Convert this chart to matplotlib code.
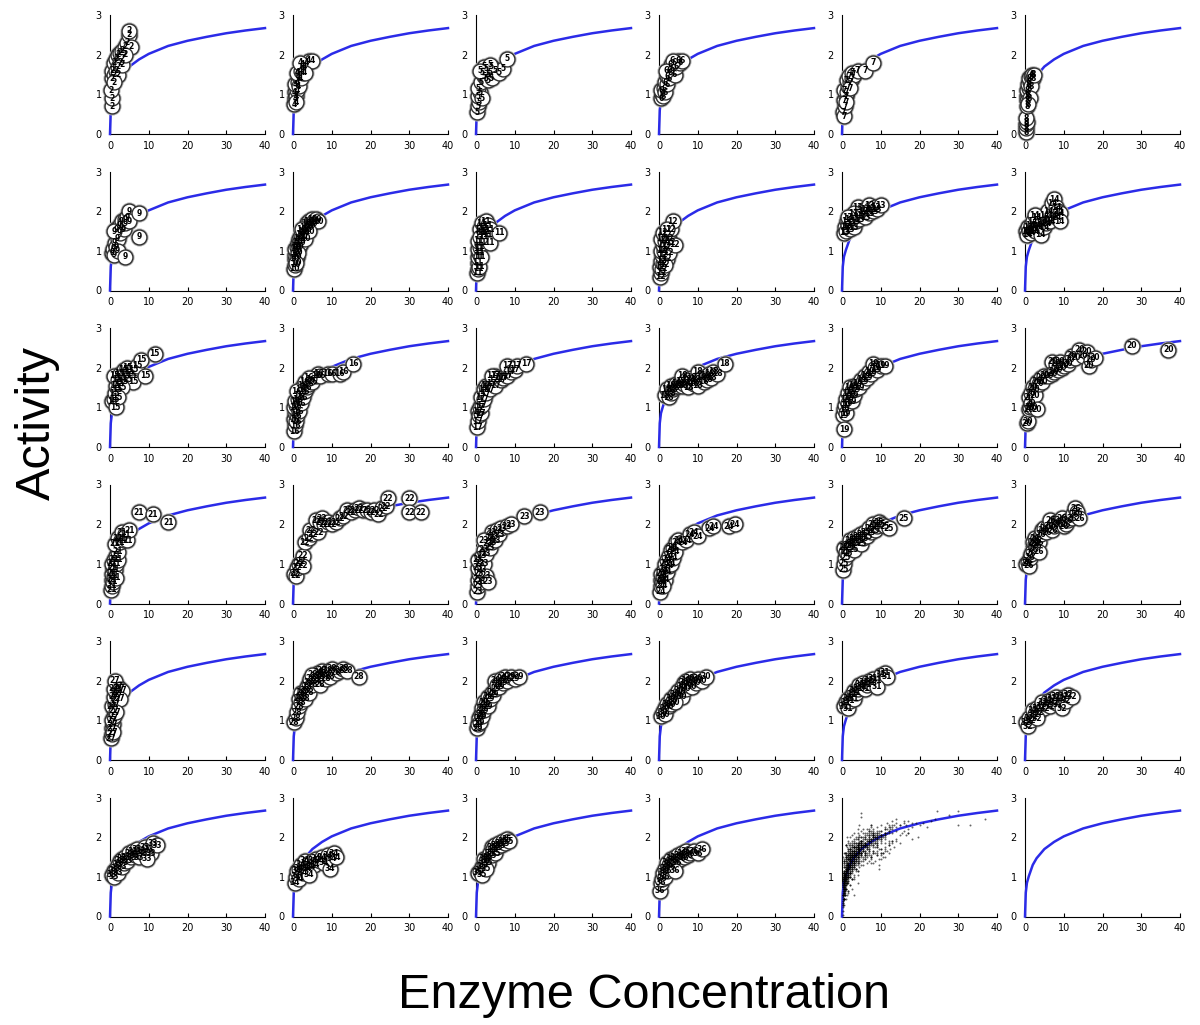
import matplotlib
matplotlib.use('Agg')
import matplotlib.pyplot as plt

# fitted curve (same in every panel)
curve_x = [0, 0.2, 0.5, 1, 2, 3, 5, 7.5, 10, 15, 20, 25, 30, 35, 40]
curve_y = [0, 0.6, 0.85, 1.02, 1.3, 1.47, 1.7, 1.88, 2.02, 2.22, 2.35, 2.45, 2.54, 2.61, 2.67]

# (concentration, activity) per group
g02 = [(0.5,0.7),(0.5,0.9),(0.3,1.1),(0.5,1.4),(0.5,1.6),(1,1.5),(1,1.8),(1.5,1.6),(1.5,1.9),(2,1.7),(2,2.0),(2.5,1.8),(2.5,2.05),(3,1.9),(3,2.1),(3.5,2.0),(4,2.2),(4.5,2.3),(5,2.5),(5,2.6),(5.5,2.2),(2,1.5),(1,1.3),(3,1.75),(4,2.0)]
g04 = [(0.3,0.75),(0.5,0.9),(0.4,1.05),(0.8,0.95),(1,1.1),(0.6,1.25),(1.2,1.3),(1.5,1.2),(1.5,1.45),(2,1.4),(1,1.55),(2,1.6),(2.5,1.55),(2.5,1.75),(3,1.7),(3.5,1.8),(4,1.85),(5,1.85),(1.8,1.8),(3,1.55),(0.8,0.8)]
g05 = [(0.3,0.55),(0.5,0.7),(0.8,0.8),(0.5,0.95),(1,1.05),(0.6,1.15),(1.5,0.9),(1.2,1.3),(2,1.45),(1.5,1.55),(2.5,1.4),(3,1.5),(2.5,1.65),(3,1.35),(3.5,1.55),(4,1.4),(4,1.7),(5,1.6),(6,1.55),(7,1.65),(8,1.9),(2,1.7),(3.5,1.75),(1,1.6)]
g06 = [(0.5,0.9),(0.8,1.0),(1,0.95),(0.5,1.1),(1.2,1.15),(1.5,1.05),(1.5,1.3),(2,1.25),(2,1.45),(2.5,1.4),(2.5,1.6),(3,1.55),(3,1.75),(3.5,1.65),(4,1.8),(4,1.5),(4.5,1.7),(5,1.85),(5.5,1.8),(6,1.85),(3.5,1.85),(1.8,1.6)]
g07 = [(0.3,0.55),(0.5,0.45),(0.8,0.7),(0.5,0.85),(1,0.95),(0.6,1.1),(1.2,1.05),(1.5,1.2),(1.2,1.35),(2,1.3),(1.8,1.45),(2.5,1.4),(2.5,1.55),(3,1.5),(4,1.6),(6,1.6),(8,1.8),(1,0.8),(2,1.15)]
g08 = [(0.2,0.05),(0.3,0.15),(0.2,0.25),(0.4,0.3),(0.3,0.4),(0.5,0.7),(0.6,0.85),(0.5,0.95),(0.8,1.0),(0.6,1.1),(1,1.15),(0.8,1.25),(1.2,1.3),(1,1.4),(1.5,1.45),(1.8,1.5),(2,1.4),(1.5,1.2),(1.2,0.9),(0.8,0.75),(2.2,1.5)]
g09 = [(0.5,0.95),(0.8,1.05),(1,0.9),(1.2,1.2),(1.5,1.1),(2,1.3),(2,1.0),(1.5,1.55),(2.5,1.45),(2.5,1.65),(3,1.6),(3,1.75),(3.5,1.55),(4,1.8),(4,1.7),(4.5,1.85),(5,2.0),(5,1.75),(7.5,1.95),(7.5,1.35),(4,0.85),(1,1.5)]
g10 = [(0.3,0.55),(0.5,0.65),(0.4,0.8),(0.6,0.9),(0.8,1.0),(0.5,1.05),(1,1.1),(1,0.85),(1.2,1.2),(1.5,1.1),(1.5,1.3),(1.8,1.25),(2,1.4),(2,1.2),(2.5,1.35),(2.5,1.5),(3,1.45),(3,1.6),(3.5,1.55),(3.5,1.7),(4,1.6),(4,1.75),(4.5,1.65),(5,1.7),(5,1.8),(5.5,1.75),(6,1.8),(6.5,1.75),(1.2,0.95),(0.8,0.7),(2.2,1.55),(3.2,1.3),(4.2,1.5)]
g11 = [(0.3,0.45),(0.5,0.55),(0.4,0.7),(0.8,0.6),(0.5,0.85),(0.8,0.95),(0.5,1.05),(1,1.1),(1.2,0.85),(0.5,1.25),(1.5,1.2),(1.5,1.45),(1,1.55),(1.5,1.7),(2,1.6),(2,1.35),(2.5,1.5),(2.5,1.75),(3,1.4),(3,1.65),(3.5,1.2),(3.5,1.55),(6,1.45),(1,1.35)]
g12 = [(0.3,0.35),(0.5,0.45),(0.3,0.6),(0.8,0.55),(0.5,0.75),(1,0.7),(0.8,0.9),(0.5,1.0),(1.2,1.0),(1,1.15),(0.5,1.3),(1.5,1.25),(1,1.45),(1.8,1.4),(2,1.1),(2,0.8),(2.5,1.3),(2.5,0.95),(3,1.55),(3,1.2),(3.5,1.75),(4,1.15),(1.5,0.65),(2,1.55)]
g13 = [(0.5,1.45),(0.8,1.6),(1,1.5),(1.2,1.75),(1.5,1.65),(2,1.55),(2,1.8),(2.5,1.7),(3,1.6),(3,1.85),(3.5,1.75),(4,1.95),(4,2.1),(4.5,1.8),(5,1.9),(5.5,2.0),(6,1.85),(6,2.05),(7,1.95),(7,2.15),(7.5,2.05),(8,2.0),(8.5,2.1),(9,2.05),(10,2.15),(3,1.95),(1.5,1.85)]
g14 = [(0.3,1.5),(0.5,1.4),(0.8,1.6),(1,1.5),(1.5,1.45),(1.5,1.65),(2,1.55),(2,1.75),(2.5,1.5),(3,1.65),(3,1.85),(3.5,1.6),(4,1.7),(4,1.4),(4.5,1.75),(5,1.6),(5,1.9),(5.5,1.7),(6,1.8),(6,2.0),(6.5,1.75),(7,1.9),(7,2.2),(7.5,2.3),(8,2.1),(8,1.85),(8.5,2.0),(9,1.95),(9,1.75),(2.5,1.9)]
g15 = [(0.5,1.15),(1,1.2),(1.5,1.0),(1.2,1.35),(1.5,1.55),(2,1.45),(1,1.8),(2,1.7),(2.5,1.6),(2.5,1.85),(3,1.75),(3.5,1.95),(3.5,1.65),(4,1.85),(4.5,2.0),(4.5,1.7),(5,1.9),(5.5,1.8),(6,1.95),(6,1.65),(7,2.05),(8,2.2),(9,1.8),(11.5,2.35),(3,1.5),(2,1.25)]
g16 = [(0.3,0.4),(0.5,0.55),(0.3,0.7),(0.8,0.65),(0.5,0.85),(1,0.8),(0.3,1.0),(0.8,1.05),(1.5,0.9),(0.5,1.15),(1.2,1.2),(2,1.1),(1.5,1.3),(2.5,1.25),(2,1.45),(3,1.4),(2.5,1.55),(3.5,1.5),(3,1.65),(4,1.6),(4.5,1.7),(5,1.65),(6,1.8),(6.5,1.85),(7,1.8),(9,1.85),(10,1.85),(12,1.85),(13,1.9),(15.5,2.1),(4,1.75),(1,1.4)]
g17 = [(0.3,0.5),(0.5,0.65),(0.5,0.9),(0.8,0.8),(1.2,0.85),(1,1.0),(1.5,1.05),(1.2,1.25),(2,1.2),(2,1.45),(2.5,1.35),(2.5,1.55),(3,1.5),(3.5,1.45),(4,1.6),(4.5,1.7),(5,1.8),(5,1.55),(6,1.75),(6.5,1.7),(7,1.75),(8,1.8),(8,2.05),(9,1.9),(10,1.95),(10.5,2.05),(13,2.1),(4,1.8)]
g18 = [(1.5,1.3),(2,1.45),(2.5,1.25),(3,1.35),(3,1.55),(3.5,1.45),(4,1.5),(4.5,1.6),(5,1.55),(5.5,1.65),(6,1.8),(6,1.55),(6.5,1.6),(7,1.7),(7.5,1.5),(8,1.65),(8.5,1.75),(9,1.6),(9.5,1.7),(10,1.9),(10,1.55),(11,1.75),(11.5,1.65),(12,1.8),(12.5,1.7),(13,1.85),(13.5,1.75),(14,1.9),(15,1.85),(17,2.1)]
g19 = [(0.3,0.8),(0.5,0.45),(0.5,0.95),(0.8,1.05),(1,0.85),(1,1.2),(1.5,1.1),(1.5,1.35),(2,1.25),(2,1.5),(2.5,1.4),(2.5,1.15),(3,1.3),(3,1.55),(3.5,1.45),(4,1.6),(4.5,1.5),(5,1.7),(5.5,1.65),(6,1.8),(6.5,1.75),(7,1.9),(7.5,1.85),(8,2.1),(8.5,2.0),(9,1.95),(10,2.05),(11,2.05)]
g20 = [(0.5,0.6),(0.8,0.65),(1,0.95),(1.2,1.0),(1,1.25),(1.5,1.35),(1.5,1.1),(2,1.0),(2,1.5),(2.5,1.45),(2.5,1.3),(3,0.95),(3,1.65),(3.5,1.6),(4,1.75),(4.5,1.65),(5,1.8),(6,1.8),(7,1.85),(7,2.15),(7.5,1.9),(8,2.1),(8.5,1.95),(9,2.15),(9.5,2.0),(10,2.05),(11,2.1),(11.5,2.2),(12,2.3),(13,2.25),(14,2.45),(15,2.3),(16,2.4),(16.5,2.05),(17,2.2),(18,2.25),(27.5,2.55),(37,2.45)]
g21 = [(0.3,0.35),(0.5,0.45),(0.4,0.6),(0.8,0.55),(0.5,0.75),(1,0.7),(0.8,0.9),(0.5,1.0),(1.2,0.85),(1,1.1),(1.5,1.0),(1.5,1.2),(2,1.1),(2,1.3),(1.2,1.5),(2,1.65),(2.5,1.55),(3,1.65),(3,1.8),(3.5,1.6),(4,1.75),(4.5,1.6),(5,1.85),(7.5,2.3),(11,2.25),(15,2.05),(1.5,0.65)]
g22 = [(0.3,0.75),(0.8,0.7),(1,0.9),(1.5,1.0),(2,1.05),(2.5,1.2),(3,1.55),(4,1.65),(4.5,1.85),(5,1.75),(6,2.1),(6.5,1.8),(7,2.05),(7.5,2.15),(8,2.0),(9,2.05),(10,2.0),(11,2.05),(12,2.15),(13,2.2),(14,2.35),(15,2.3),(16,2.35),(17,2.4),(18,2.35),(19,2.35),(20,2.3),(21,2.35),(22,2.25),(23,2.4),(24,2.45),(24.5,2.65),(30,2.65),(30,2.3),(33,2.3),(2.5,0.95)]
g23 = [(0.3,0.3),(0.5,0.45),(0.5,0.6),(0.8,0.75),(0.5,0.9),(1,1.0),(0.5,1.1),(1.2,0.55),(1.5,0.85),(1.5,1.2),(2,1.0),(2,1.35),(2.5,0.7),(2.5,1.25),(3,0.55),(3,1.5),(3.5,1.4),(3.5,1.65),(4,1.55),(4,1.8),(4.5,1.7),(5,1.6),(5.5,1.85),(6,1.75),(6.5,1.9),(8,1.95),(9,2.0),(12.5,2.2),(16.5,2.3),(2,1.6)]
g24 = [(0.3,0.3),(0.5,0.45),(0.5,0.6),(0.8,0.55),(0.5,0.75),(1,0.7),(1.2,0.85),(1.5,0.6),(1.5,1.0),(2,0.8),(2,1.1),(2.5,0.95),(2.5,1.2),(3,1.0),(3,1.35),(3.5,1.15),(3.5,1.4),(4,1.3),(4.5,1.55),(5,1.6),(6,1.55),(7,1.6),(8,1.75),(9,1.8),(10,1.7),(13,1.9),(14,1.95),(18,1.95),(19.5,2.0),(1,0.45)]
g25 = [(0.3,0.85),(0.5,1.0),(0.5,1.4),(0.8,1.15),(1,1.3),(1.5,1.25),(1.5,1.45),(2,1.4),(2,1.6),(2.5,1.5),(3,1.35),(3,1.65),(3.5,1.55),(4,1.7),(4.5,1.6),(5,1.75),(5,1.5),(5.5,1.65),(6,1.8),(6.5,1.7),(7,1.9),(7.5,1.8),(8,2.0),(8.5,1.85),(9,1.95),(9.5,2.05),(10,2.0),(11,1.95),(12,1.9),(16,2.15)]
g26 = [(0.3,1.0),(0.8,1.05),(1,0.95),(1.2,1.15),(1.5,1.25),(2,1.35),(2,1.55),(2.5,1.5),(2.5,1.65),(3,1.45),(3,1.6),(3.5,1.55),(4,1.75),(4.5,1.85),(5,1.9),(5.5,1.8),(6,1.95),(6.5,2.1),(7,1.85),(7.5,1.95),(8,2.05),(8.5,2.0),(9,2.1),(9.5,2.15),(10,1.95),(10.5,2.0),(11,2.1),(12,2.15),(12.5,2.25),(13,2.4),(13.5,2.3),(14,2.15),(3.5,1.3)]
g27 = [(0.3,0.55),(0.5,0.65),(0.5,0.8),(0.8,0.9),(0.5,1.0),(1,1.1),(1,1.25),(0.5,1.35),(1.2,1.4),(1.5,1.5),(1,1.6),(1.5,1.7),(2,1.65),(1,1.8),(2,1.85),(1.2,2.0),(2.5,1.8),(3,1.75),(2.5,1.55),(1.5,1.2),(0.8,0.7)]
g28 = [(0.3,0.95),(0.8,1.05),(1,1.2),(1.5,1.35),(1.5,1.55),(2,1.45),(2,1.7),(2.5,1.6),(3,1.75),(3,1.55),(3.5,1.85),(4,1.95),(4,1.7),(4.5,2.05),(5,1.9),(5.5,2.1),(6,2.0),(6.5,2.2),(7,2.1),(7,1.9),(7.5,2.25),(8,2.15),(8.5,2.05),(9,2.25),(9.5,2.1),(10,2.3),(11,2.2),(12,2.25),(13,2.3),(14,2.25),(17,2.1),(5,2.15)]
g29 = [(0.3,0.8),(0.5,0.9),(0.8,1.05),(1,0.95),(1.2,1.15),(1.5,1.3),(1.5,1.1),(2,1.25),(2,1.45),(2.5,1.4),(3,1.6),(3,1.35),(3.5,1.55),(4,1.7),(4.5,1.65),(5,1.8),(5,2.0),(5.5,1.9),(6,1.85),(6.5,2.05),(7,1.95),(7.5,2.1),(8,2.0),(9,2.1),(10,2.05),(11,2.1)]
g30 = [(0.5,1.1),(1,1.2),(1.5,1.3),(1.5,1.15),(2,1.4),(2.5,1.35),(3,1.55),(3,1.4),(3.5,1.5),(4,1.65),(4.5,1.6),(5,1.75),(5.5,1.7),(6,1.85),(6,1.6),(6.5,1.95),(7,1.8),(7,2.0),(7.5,1.9),(8,2.05),(8.5,1.85),(9,2.0),(9.5,1.95),(10,2.05),(11,2.0),(12,2.1),(4,1.45)]
g31 = [(0.5,1.35),(1,1.45),(1.5,1.3),(1.5,1.55),(2,1.5),(2.5,1.65),(3,1.55),(3,1.75),(3.5,1.7),(4,1.8),(4.5,1.9),(5,1.85),(5.5,1.95),(6,1.8),(6.5,1.9),(7,2.0),(7.5,1.95),(8,2.05),(9,2.0),(10,2.15),(11,2.2),(11.5,2.1),(9,1.85)]
g32 = [(0.3,0.95),(0.8,0.85),(1,1.05),(1.5,1.0),(2,1.1),(2,1.25),(2.5,1.15),(3,1.3),(3.5,1.2),(4,1.35),(4.5,1.45),(5,1.3),(5.5,1.4),(6,1.5),(6.5,1.35),(7,1.55),(7.5,1.45),(8,1.6),(8.5,1.4),(9,1.55),(9.5,1.3),(10,1.6),(10.5,1.5),(11,1.65),(12,1.6),(3,1.05)]
g33 = [(0.5,1.05),(1,1.15),(1,1.0),(1.5,1.2),(2,1.3),(2,1.1),(2.5,1.4),(3,1.25),(3,1.45),(3.5,1.35),(4,1.5),(4.5,1.4),(5,1.6),(5.5,1.5),(6,1.65),(6.5,1.55),(7,1.7),(7.5,1.5),(8,1.65),(8.5,1.6),(9,1.75),(10,1.7),(10.5,1.6),(11,1.85),(12,1.8),(9.5,1.45)]
g34 = [(0.5,0.85),(0.8,1.0),(1,1.15),(1.5,1.2),(1.5,0.95),(2,1.3),(2.5,1.1),(3,1.25),(3,1.4),(3.5,1.2),(4,1.35),(4.5,1.25),(5,1.4),(5.5,1.3),(6,1.45),(7,1.4),(7.5,1.5),(8,1.35),(9,1.55),(9.5,1.2),(10,1.45),(10.5,1.6),(11,1.5),(4,1.05)]
g35 = [(0.5,1.1),(1,1.15),(1.5,1.25),(1.5,1.05),(2,1.3),(2,1.45),(2.5,1.4),(3,1.5),(3,1.35),(3.5,1.6),(4,1.55),(4,1.75),(4.5,1.7),(5,1.8),(5,1.6),(5.5,1.75),(6,1.85),(6.5,1.8),(7,1.9),(7.5,1.85),(8,1.95),(8.5,1.9),(2.5,1.2)]
g36 = [(0.3,0.65),(0.5,0.85),(0.8,0.95),(1,1.1),(1.5,1.0),(1.5,1.2),(2,1.15),(2,1.35),(2.5,1.3),(3,1.25),(3,1.45),(3.5,1.4),(4,1.5),(4.5,1.35),(5,1.55),(5.5,1.45),(6,1.6),(6.5,1.5),(7,1.65),(7.5,1.55),(8,1.6),(9,1.65),(10,1.6),(11,1.7),(4,1.15)]

group_ids = [2, 4, 5, 6, 7, 8, 9, 10, 11, 12, 13, 14, 15, 16, 17, 18, 19, 20,
             21, 22, 23, 24, 25, 26, 27, 28, 29, 30, 31, 32, 33, 34, 35, 36]
group_pts = [g02, g04, g05, g06, g07, g08, g09, g10, g11, g12, g13, g14, g15, g16, g17, g18, g19, g20,
             g21, g22, g23, g24, g25, g26, g27, g28, g29, g30, g31, g32, g33, g34, g35, g36]

W, H = 1200, 1025
fig = plt.figure(figsize=(W / 100, H / 100), dpi=100)

for i in range(36):
    r, c = divmod(i, 6)
    left = (110 + 183 * c) / W
    bottom = 1 - (134 + 156.5 * r) / H
    ax = fig.add_axes([left, bottom, 155 / W, 119 / H])
    ax.set_xlim(0, 40)
    ax.set_ylim(0, 3)
    ax.set_xticks([0, 10, 20, 30, 40])
    ax.set_yticks([0, 1, 2, 3])
    ax.spines['top'].set_visible(False)
    ax.spines['right'].set_visible(False)
    ax.tick_params(axis='x', direction='in', length=3, labelsize=7, pad=5)
    ax.tick_params(axis='y', direction='in', length=0, labelsize=7, pad=6)
    # curve sits above the spines so its steep start stays blue
    ax.plot(curve_x, curve_y, color='#2b2be8', lw=1.8, zorder=2.6, clip_on=False)

    if i < 34:
        pts = group_pts[i]
        xs = [p[0] for p in pts]
        ys = [p[1] for p in pts]
        # soft grey halo, then the white circle
        ax.scatter(xs, ys, s=170, color='#b0b0b0', linewidths=0, zorder=2.7, clip_on=False)
        ax.scatter(xs, ys, s=115, facecolor='white', edgecolor='#303030',
                   linewidth=1.0, zorder=3, clip_on=False)
        for x, y in pts:
            ax.text(x, y, str(group_ids[i]), fontsize=5.5, fontweight='bold',
                    ha='center', va='center', color='black', zorder=4, clip_on=False)
    elif i == 34:
        xs = [p[0] for g in group_pts for p in g]
        ys = [p[1] for g in group_pts for p in g]
        ax.scatter(xs, ys, s=2, color='black', alpha=0.6, linewidths=0, zorder=3)

fig.text(37 / W, 1 - 423 / H, 'Activity', rotation=90, ha='center', va='center',
         fontsize=35, family='Liberation Sans')
fig.text(644 / W, 1 - 995 / H, 'Enzyme Concentration', ha='center', va='center',
         fontsize=35, family='Liberation Sans')

fig.savefig('out.png', dpi=100)
